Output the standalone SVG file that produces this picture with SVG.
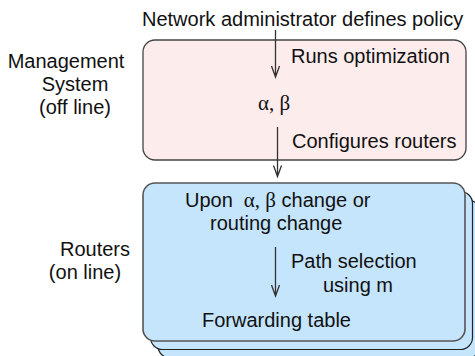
<svg xmlns="http://www.w3.org/2000/svg" width="475" height="356" viewBox="0 0 475 356">
  <style>
    .sans { font-family: "Liberation Sans", Arial, sans-serif; font-size: 20px; fill: #111; }
    .greek { font-family: "Liberation Serif", "Times New Roman", serif; font-size: 21px; fill: #111; }
    .pink { fill: #fdecec; stroke: #444; stroke-width: 1.3; }
    .blue { fill: #c5e5fd; stroke: #222; stroke-width: 1.2; }
    .blue-front { fill: #c5e5fd; stroke: #555; stroke-width: 1.6; }
    .conn { stroke: #333; stroke-width: 1.3; fill: none; }
  </style>

  <!-- side labels -->
  <g id="label-management">
    <text class="sans" x="66" y="68" text-anchor="middle">Management</text>
    <text class="sans" x="75" y="91" text-anchor="middle">System</text>
    <text class="sans" x="75" y="114" text-anchor="middle">(off line)</text>
  </g>
  <g id="label-routers">
    <text class="sans" x="95" y="256" text-anchor="middle">Routers</text>
    <text class="sans" x="85" y="279" text-anchor="middle">(on line)</text>
  </g>

  <!-- top caption -->
  <g id="policy">
    <text class="sans" x="142" y="26">Network administrator defines policy</text>
  </g>

  <!-- management system box -->
  <g id="management-system">
    <rect class="pink" x="143" y="40" width="323" height="120" rx="12" ry="12"/>
    <text class="sans" x="291" y="63">Runs optimization</text>
    <text class="greek" x="258" y="110">α, β</text>
    <text class="sans" x="292" y="148">Configures routers</text>
  </g>

  <!-- router stack -->
  <g id="routers">
    <rect class="blue" x="158" y="200" width="322" height="158" rx="12" ry="12"/>
    <rect class="blue" x="150.5" y="191.5" width="322" height="158" rx="12" ry="12"/>
    <rect class="blue-front" x="143" y="183" width="322" height="158" rx="12" ry="12"/>
    <text x="185" y="206.5"><tspan class="sans">Upon</tspan><tspan class="greek" dx="11">α, β</tspan><tspan class="sans"> change or</tspan></text>
    <text class="sans" x="210" y="230">routing change</text>
    <text class="sans" x="291" y="268">Path selection</text>
    <text class="sans" x="323" y="291.5">using m</text>
    <text class="sans" x="202" y="326.5">Forwarding table</text>
  </g>

  <!-- connectors -->
  <g id="connectors">
    <path class="conn" d="M275.5 30 V77 M271.5 66 L275.5 77 L279.5 66"/>
    <path class="conn" d="M277.5 127 V176.5 M273.5 165.5 L277.5 176.5 L281.5 165.5"/>
    <path class="conn" d="M275.5 247 V296 M271.5 285 L275.5 296 L279.5 285"/>
  </g>
</svg>
